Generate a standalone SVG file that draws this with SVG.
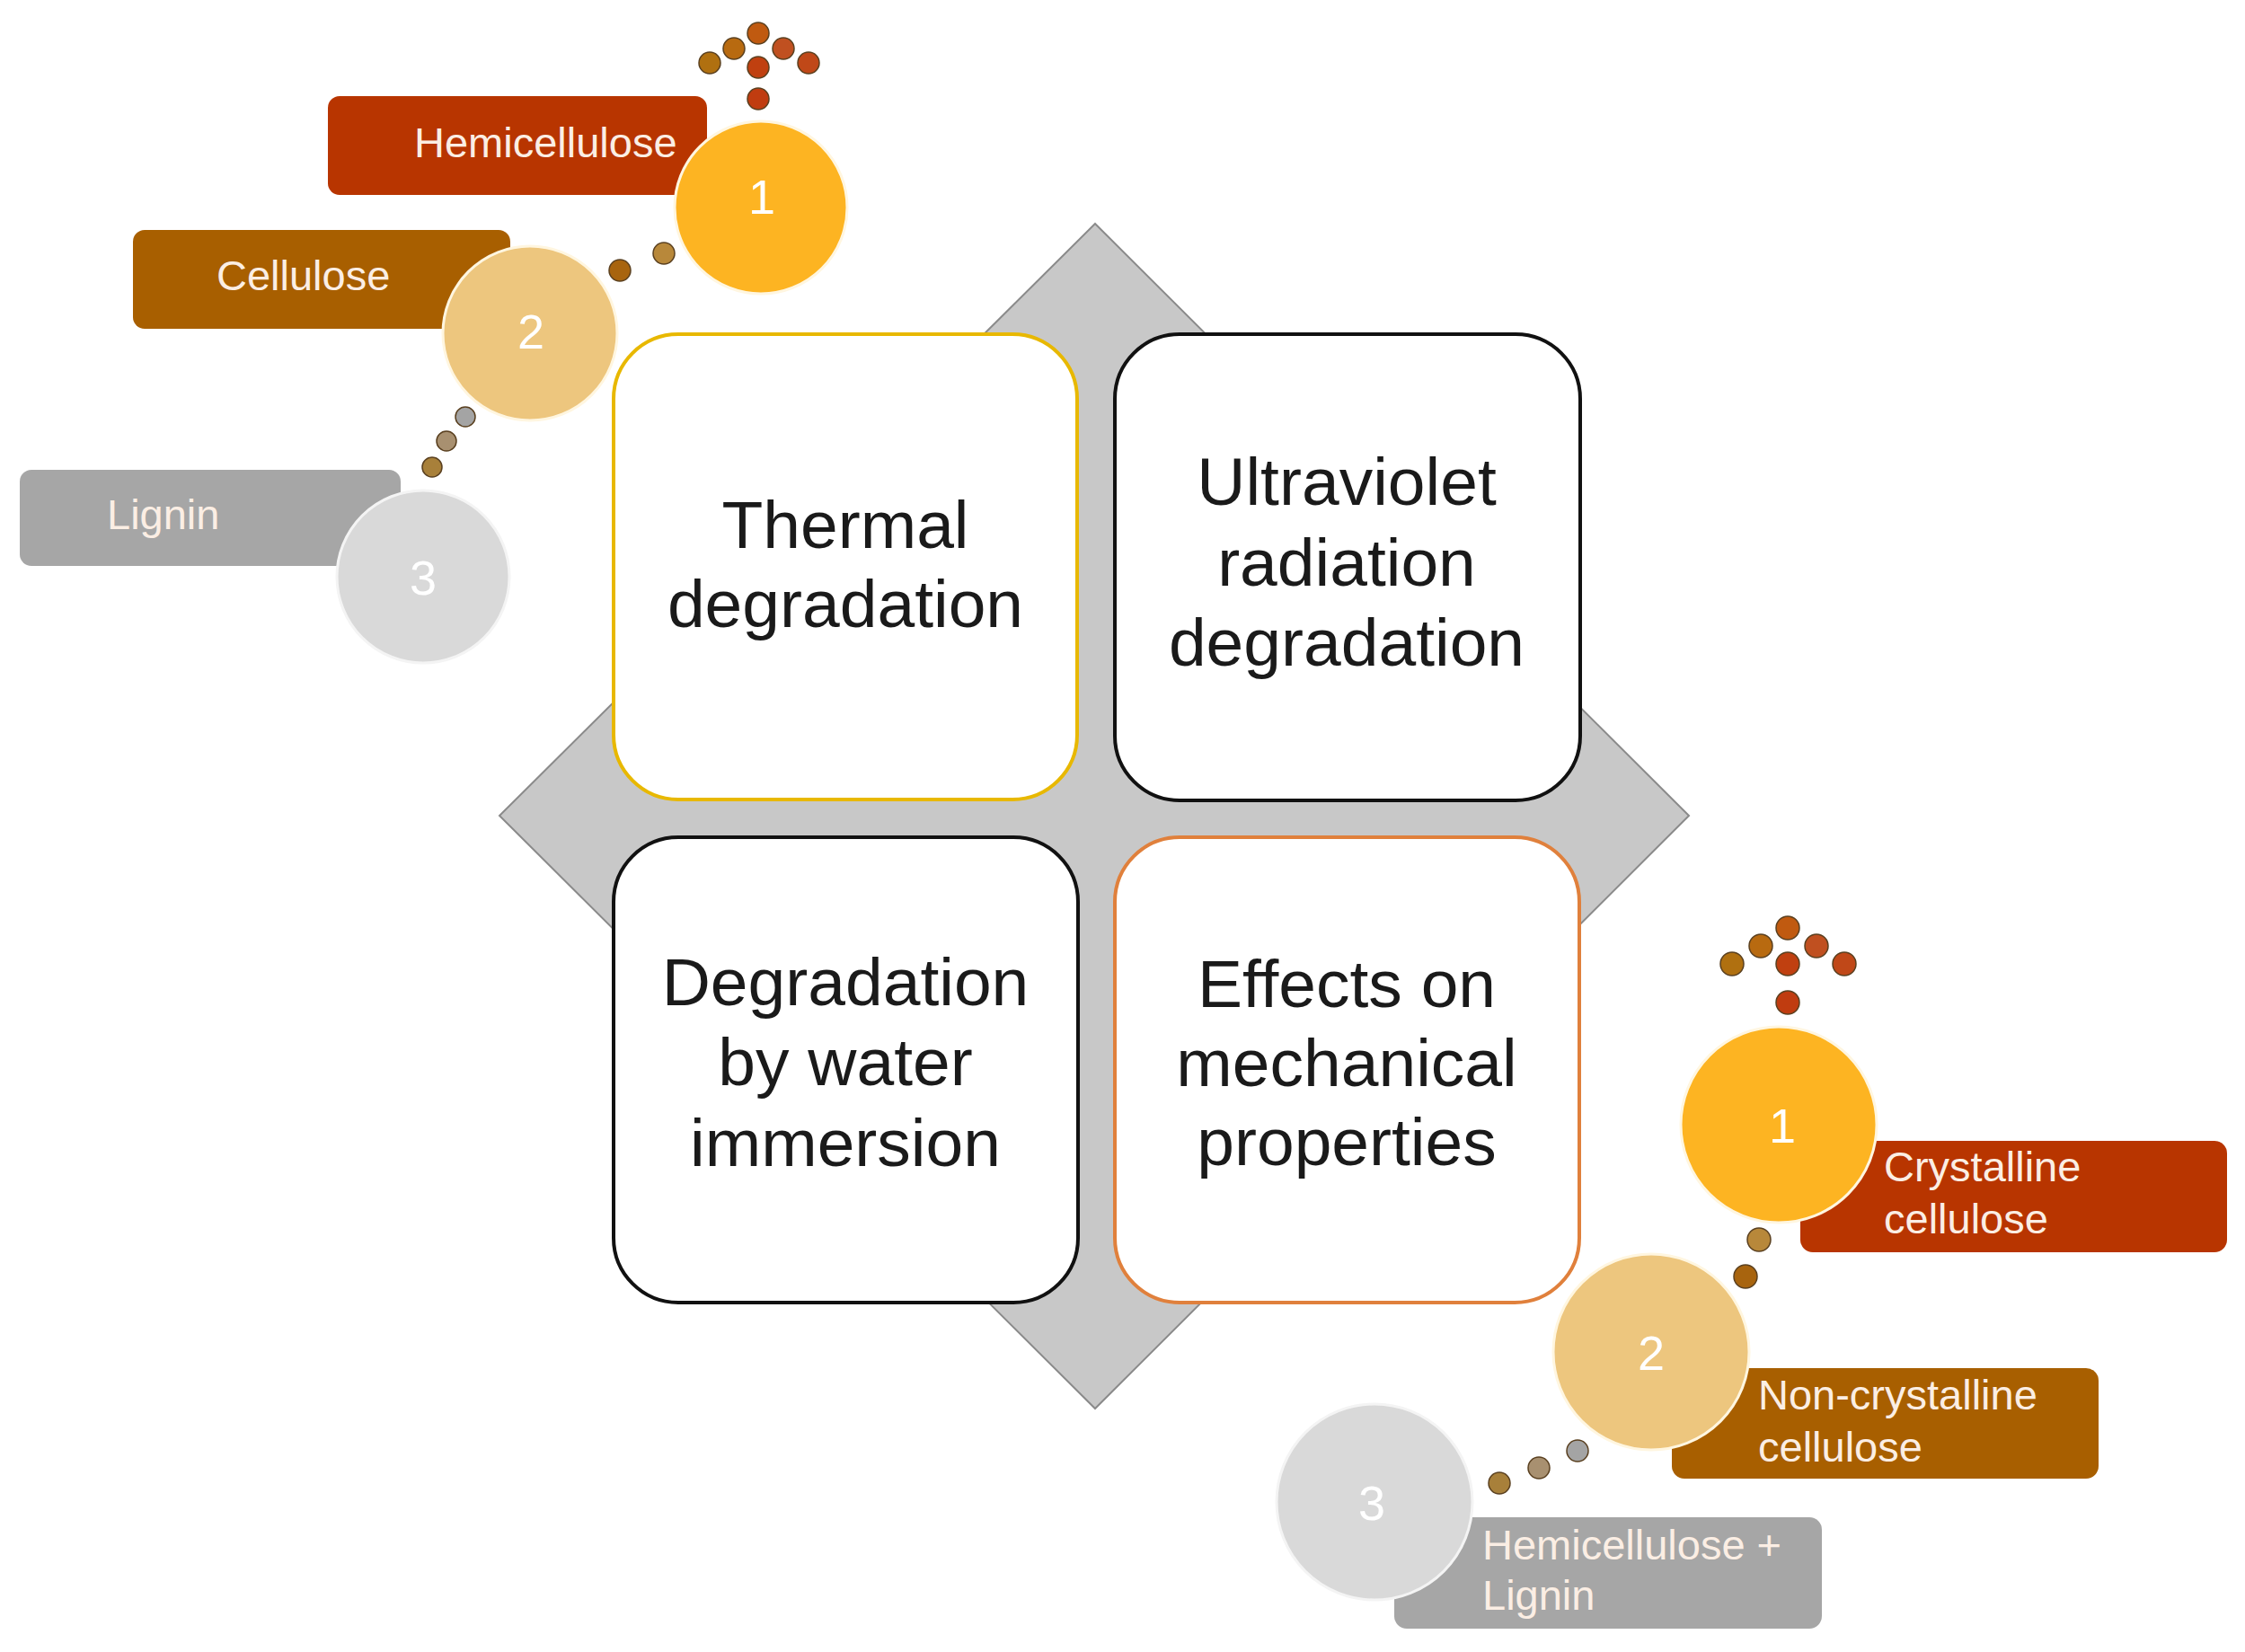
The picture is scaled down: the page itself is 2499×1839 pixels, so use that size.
<svg xmlns="http://www.w3.org/2000/svg" width="2499" height="1839" viewBox="0 0 2499 1839">
<style>
.box{fill:#ffffff;stroke-width:4}
.bt{font-family:"Liberation Sans",Arial,sans-serif;font-size:75px;fill:#1a1a1a;text-anchor:middle}
.lt{font-family:"Liberation Sans",Arial,sans-serif;font-size:47px;fill:#fbeee4}
.num{font-family:"Liberation Sans",Arial,sans-serif;font-size:54px;fill:#ffffff;text-anchor:middle}
.c1{fill:#fdb422;stroke:#fff6e0;stroke-width:3}
.c2{fill:#edc67e;stroke:#fff6e0;stroke-width:3}
.c3{fill:#d9d9d9;stroke:#f4f4f4;stroke-width:3}
.b1{fill:#b83500}
.b2{fill:#a85f00}
.b3{fill:#a6a6a6}
.d{stroke:#5a4020;stroke-width:1.5}
</style>
<rect width="2499" height="1839" fill="#ffffff"/>
<g id="diamond">
<polygon points="1219,249 1880,908 1219,1568 556,908" fill="#c8c8c8" stroke="#8a8a8a" stroke-width="2"/>
</g>
<g id="thermal">
<rect class="box" x="683" y="372" width="516" height="518" rx="72" stroke="#e8b800"/>
<text class="bt" x="941" y="610">Thermal</text>
<text class="bt" x="941" y="698">degradation</text>
</g>
<g id="ultraviolet">
<rect class="box" x="1241" y="372" width="518" height="519" rx="72" stroke="#111111"/>
<text class="bt" x="1499" y="562">Ultraviolet</text>
<text class="bt" x="1499" y="652">radiation</text>
<text class="bt" x="1499" y="741">degradation</text>
</g>
<g id="water">
<rect class="box" x="683" y="932" width="517" height="518" rx="72" stroke="#111111"/>
<text class="bt" x="941" y="1119">Degradation</text>
<text class="bt" x="941" y="1208">by water</text>
<text class="bt" x="941" y="1298">immersion</text>
</g>
<g id="effects">
<rect class="box" x="1241" y="932" width="517" height="518" rx="72" stroke="#e0803c"/>
<text class="bt" x="1499" y="1121">Effects on</text>
<text class="bt" x="1499" y="1209">mechanical</text>
<text class="bt" x="1499" y="1297">properties</text>
</g>
<g id="tl-hemicellulose">
<rect class="b1" x="365" y="107" width="422" height="110" rx="13"/>
<text class="lt" x="461" y="175">Hemicellulose</text>
</g>
<g id="tl-cellulose">
<rect class="b2" x="148" y="256" width="420" height="110" rx="13"/>
<text class="lt" x="241" y="323">Cellulose</text>
</g>
<g id="tl-lignin">
<rect class="b3" x="22" y="523" width="424" height="107" rx="13"/>
<text class="lt" x="119" y="589">Lignin</text>
</g>
<g id="tl-circle1">
<circle class="c1" cx="847" cy="231" r="96"/>
<text class="num" x="848" y="238">1</text>
</g>
<g id="tl-circle2">
<circle class="c2" cx="590" cy="371" r="97"/>
<text class="num" x="591" y="388">2</text>
</g>
<g id="tl-circle3">
<circle class="c3" cx="471" cy="642" r="96"/>
<text class="num" x="471" y="662">3</text>
</g>
<g id="br-crystalline">
<rect class="b1" x="2004" y="1270" width="475" height="124" rx="14"/>
<text class="lt" x="2097" y="1315">Crystalline</text>
<text class="lt" x="2097" y="1373">cellulose</text>
</g>
<g id="br-noncrystalline">
<rect class="b2" x="1861" y="1523" width="475" height="123" rx="14"/>
<text class="lt" x="1957" y="1569">Non-crystalline</text>
<text class="lt" x="1957" y="1627">cellulose</text>
</g>
<g id="br-hemilignin">
<rect class="b3" x="1552" y="1689" width="476" height="124" rx="14"/>
<text class="lt" x="1650" y="1736">Hemicellulose +</text>
<text class="lt" x="1650" y="1792">Lignin</text>
</g>
<g id="br-circle1">
<circle class="c1" cx="1980" cy="1252" r="109"/>
<text class="num" x="1984" y="1272">1</text>
</g>
<g id="br-circle2">
<circle class="c2" cx="1838" cy="1505" r="109"/>
<text class="num" x="1838" y="1525">2</text>
</g>
<g id="br-circle3">
<circle class="c3" cx="1530" cy="1672" r="109"/>
<text class="num" x="1527" y="1692">3</text>
</g>
<g id="connectors">
<circle class="d" cx="844" cy="37" r="12" fill="#c05a10"/>
<circle class="d" cx="817" cy="54" r="12" fill="#b86a10"/>
<circle class="d" cx="872" cy="54" r="12" fill="#c05020"/>
<circle class="d" cx="790" cy="70" r="12" fill="#b07010"/>
<circle class="d" cx="844" cy="75" r="12" fill="#c04010"/>
<circle class="d" cx="900" cy="70" r="12" fill="#c04818"/>
<circle class="d" cx="844" cy="110" r="12" fill="#c03c10"/>
<circle class="d" cx="739" cy="282" r="12" fill="#b8883a"/>
<circle class="d" cx="690" cy="301" r="12" fill="#a8640e"/>
<circle class="d" cx="518" cy="464" r="11" fill="#a4a4a4"/>
<circle class="d" cx="497" cy="491" r="11" fill="#a89070"/>
<circle class="d" cx="481" cy="520" r="11" fill="#a8803a"/>
<circle class="d" cx="1990" cy="1033" r="13" fill="#c05a10"/>
<circle class="d" cx="1960" cy="1053" r="13" fill="#b86a10"/>
<circle class="d" cx="2022" cy="1053" r="13" fill="#c05020"/>
<circle class="d" cx="1928" cy="1073" r="13" fill="#b07010"/>
<circle class="d" cx="1990" cy="1073" r="13" fill="#c04010"/>
<circle class="d" cx="2053" cy="1073" r="13" fill="#c04818"/>
<circle class="d" cx="1990" cy="1116" r="13" fill="#c03c10"/>
<circle class="d" cx="1958" cy="1380" r="13" fill="#b8883a"/>
<circle class="d" cx="1943" cy="1421" r="13" fill="#a8640e"/>
<circle class="d" cx="1756" cy="1615" r="12" fill="#a4a4a4"/>
<circle class="d" cx="1713" cy="1634" r="12" fill="#a89070"/>
<circle class="d" cx="1669" cy="1651" r="12" fill="#a8803a"/>
</g>
</svg>
